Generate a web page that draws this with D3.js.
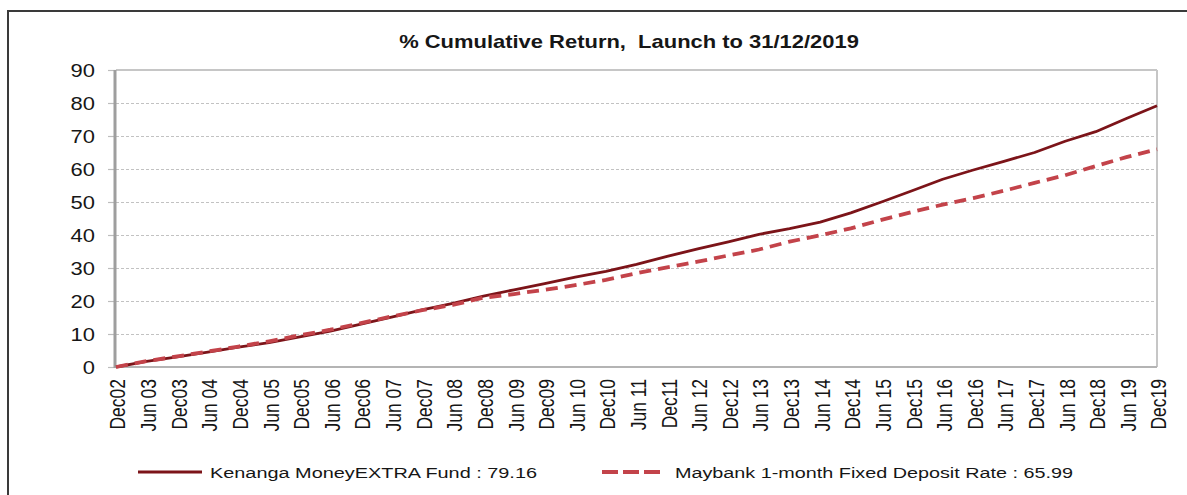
<!DOCTYPE html>
<html>
<head>
<meta charset="utf-8">
<script src="https://cdn.jsdelivr.net/npm/d3@7"></script>
<style>
  html, body { margin: 0; padding: 0; background: #fff; }
  svg { display: block; }
  text { font-family: "Liberation Sans", Arial, sans-serif; fill: #161616; }
</style>
</head>
<body>
<svg id="chart" width="1187" height="495"></svg>
<script>
// ---- data (semi-annual readings) ----
const periods = ["Dec02","Jun 03","Dec03","Jun 04","Dec04","Jun 05","Dec05","Jun 06","Dec06","Jun 07",
  "Dec07","Jun 08","Dec08","Jun 09","Dec09","Jun 10","Dec10","Jun 11","Dec11","Jun 12",
  "Dec12","Jun 13","Dec13","Jun 14","Dec14","Jun 15","Dec15","Jun 16","Dec16","Jun 17",
  "Dec17","Jun 18","Dec18","Jun 19","Dec19"];
const fundValues = [0,1.7,3.1,4.5,6.0,7.4,9.1,10.9,13.0,15.1,17.3,19.3,21.5,23.4,25.3,27.2,29.0,31.1,33.5,35.8,
  37.9,40.2,41.9,43.9,46.7,50.0,53.4,56.9,59.7,62.3,65.0,68.4,71.3,75.3,79.16];
const depositValues = [0,1.8,3.2,4.7,6.2,7.8,9.6,11.3,13.3,15.3,17.2,18.8,21.0,22.1,23.4,24.8,26.4,28.4,30.2,31.9,
  33.8,35.6,38.0,39.9,42.0,44.6,47.0,49.2,51.2,53.4,55.8,58.1,60.9,63.6,65.99];
const yTicks = [0,10,20,30,40,50,60,70,80,90];
const titleText = "% Cumulative Return,  Launch to 31/12/2019";
const seriesNames = ["Kenanga MoneyEXTRA Fund : 79.16", "Maybank 1-month Fixed Deposit Rate : 65.99"];

// ---- layout ----
const svg = d3.select("#chart");
const L = 116, R = 1157, T = 70, B = 367;
const SX = 1.22; // horizontal text stretch seen in the reference

const x = d3.scaleLinear().domain([0, periods.length - 1]).range([L, R]);
const y = d3.scaleLinear().domain([0, 90]).range([B, T]);

// outer frame
svg.append("rect").attr("x", 8).attr("y", 11).attr("width", 1200).attr("height", 500)
  .attr("fill", "none").attr("stroke", "#3a3a3a").attr("stroke-width", 2);

// title
svg.append("text")
  .attr("transform", `translate(629,48) scale(${SX},1)`)
  .attr("text-anchor", "middle")
  .style("white-space", "pre")
  .attr("font-size", 18).attr("font-weight", "bold")
  .text(titleText);

// grid (y axis with long ticks)
const yGrid = svg.append("g").attr("transform", `translate(${L},0)`)
  .call(d3.axisLeft(y).tickValues(yTicks.filter(v => v > 0 && v < 90)).tickSize(-(R - L)).tickFormat(""));
yGrid.select(".domain").remove();
yGrid.selectAll("line").attr("stroke", "#c2c2c2").attr("stroke-dasharray", "3,2").attr("stroke-width", 1.2);

// small y ticks
const yTickG = svg.append("g").attr("transform", `translate(${L},0)`)
  .call(d3.axisLeft(y).tickValues(yTicks).tickSize(8).tickFormat(""));
yTickG.select(".domain").remove();
yTickG.selectAll("line").attr("stroke", "#bdbdbd").attr("stroke-width", 1.2);

// y labels
svg.append("g").selectAll("text").data(yTicks).join("text")
  .attr("transform", d => `translate(95,${y(d) + 6.5}) scale(${SX},1)`)
  .attr("text-anchor", "end").attr("font-size", 18)
  .text(d => d);

// plot frame: top and right
svg.append("line").attr("x1", L).attr("x2", R).attr("y1", T).attr("y2", T)
  .attr("stroke", "#c6c6c6").attr("stroke-width", 2);
svg.append("line").attr("x1", R).attr("x2", R).attr("y1", T).attr("y2", B)
  .attr("stroke", "#c6c6c6").attr("stroke-width", 2);
// bottom axis line
svg.append("line").attr("x1", L).attr("x2", R).attr("y1", B).attr("y2", B)
  .attr("stroke", "#b4b4b4").attr("stroke-width", 2);
// left axis
svg.append("line").attr("x1", L - 1).attr("x2", L - 1).attr("y1", T).attr("y2", B + 1)
  .attr("stroke", "#9e9e9e").attr("stroke-width", 3);

// x labels (rotated)
svg.append("g").selectAll("text").data(periods).join("text")
  .attr("transform", (d, i) => `translate(${x(i) + 2},379) scale(${SX},1) rotate(-90)`)
  .attr("text-anchor", "end").attr("dy", "0.35em").attr("font-size", 17.5)
  .text(d => d);

// lines
const line = d3.line().x((d, i) => x(i)).y(d => y(d));
svg.append("path").datum(fundValues).attr("d", line)
  .attr("fill", "none").attr("stroke", "#7c1419").attr("stroke-width", 2.8).attr("stroke-linejoin", "round");
svg.append("path").datum(depositValues).attr("d", line)
  .attr("fill", "none").attr("stroke", "#c3434a").attr("stroke-width", 3.8)
  .attr("stroke-dasharray", "12,7");

// legend
const lg = svg.append("g");
lg.append("line").attr("x1", 138).attr("x2", 202).attr("y1", 472).attr("y2", 472)
  .attr("stroke", "#7c1419").attr("stroke-width", 3);
lg.append("text").attr("x", 210).attr("y", 478).attr("font-size", 15.5)
  .attr("textLength", 327).attr("lengthAdjust", "spacingAndGlyphs")
  .text(seriesNames[0]);
lg.append("line").attr("x1", 602).attr("x2", 662).attr("y1", 472).attr("y2", 472)
  .attr("stroke", "#c3434a").attr("stroke-width", 4).attr("stroke-dasharray", "16,5");
lg.append("text").attr("x", 675).attr("y", 478).attr("font-size", 15.5)
  .attr("textLength", 398).attr("lengthAdjust", "spacingAndGlyphs")
  .text(seriesNames[1]);
</script>
</body>
</html>
